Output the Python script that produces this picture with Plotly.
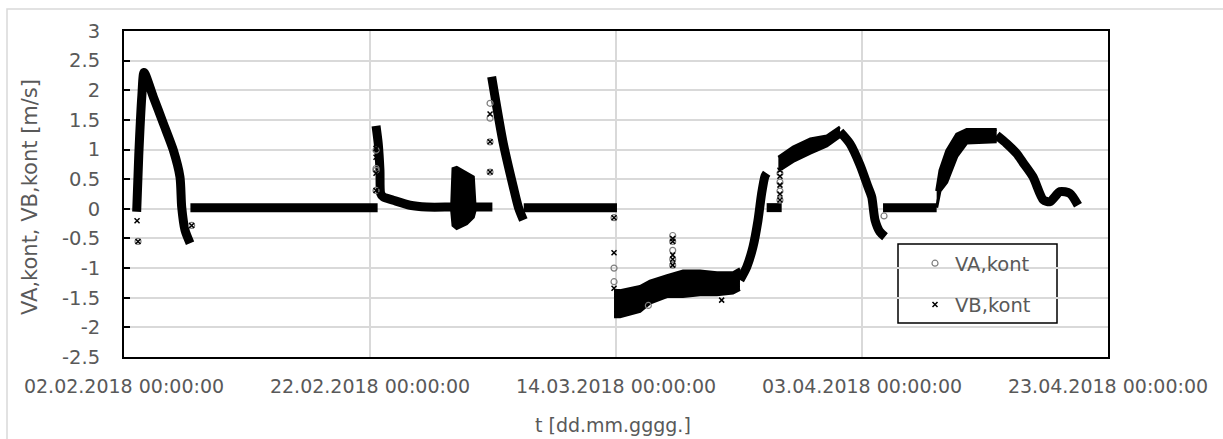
import pandas as pd
import plotly.graph_objects as go

START = pd.Timestamp("2018-02-02")

# Time axis in days since 02.02.2018 00:00, velocities in m/s.
# Dense logger record, traced as the centre line of each flow event.
run1_day = [1.03, 1.20, 1.45, 1.63, 2.38, 3.20, 4.01, 4.55, 4.69, 4.96, 5.37]
run1_v = [-0.05, 0.90, 1.90, 2.30, 1.89, 1.44, 0.99, 0.54, 0.03, -0.36, -0.58]

idle1_day = [5.40, 20.62]
idle1_v = [0.02, 0.02]

run2_day = [20.49, 20.67, 20.81, 20.87, 21.08, 21.89, 23.25, 24.61, 26.64, 28.54, 29.95]
run2_v = [1.40, 1.10, 0.65, 0.26, 0.20, 0.145, 0.06, 0.03, 0.03, 0.03, 0.03]

# short oscillating burst (lower / upper envelope)
burst_day = [26.64, 26.75, 27.05, 27.86, 28.40, 28.54]
burst_lo = [-0.03, -0.28, -0.33, -0.25, -0.14, -0.03]
burst_hi = [0.05, 0.68, 0.70, 0.60, 0.54, 0.05]

run3_day = [29.89, 30.84, 31.65, 32.06, 32.47]
run3_v = [2.23, 1.10, 0.37, 0.03, -0.19]

idle3_day = [32.50, 40.08]
idle3_v = [0.02, 0.02]

# reverse flow period (noisy band envelope)
rev_day = [39.84, 40.33, 41.95, 42.76, 44.15, 45.45, 46.83, 48.21, 49.51, 50.08]
rev_lo = [-1.82, -1.82, -1.73, -1.59, -1.48, -1.48, -1.45, -1.45, -1.42, -1.36]
rev_hi = [-1.38, -1.38, -1.31, -1.22, -1.13, -1.05, -1.05, -1.08, -1.08, -1.01]

rise_day = [50.08, 50.63, 51.14, 51.54, 51.84, 52.11, 52.25]
rise_v = [-1.20, -0.98, -0.64, -0.20, 0.26, 0.55, 0.60]

idle4_day = [52.25, 53.47]
idle4_v = [0.02, 0.02]

run5_day = [53.20, 54.40, 55.80, 57.14, 58.21]
run5_lo = [0.64, 0.80, 0.94, 1.06, 1.22]
run5_hi = [0.87, 1.04, 1.18, 1.23, 1.38]

fall5_day = [58.21, 59.02, 59.84, 60.49, 60.79, 61.06, 61.46, 61.87]
fall5_v = [1.30, 1.10, 0.74, 0.37, 0.20, -0.19, -0.39, -0.47]

idle5_day = [61.71, 66.07]
idle5_v = [0.02, 0.02]

run6_day = [66.07, 66.34, 66.89, 67.70, 68.51, 70.95]
run6_lo = [0.02, 0.30, 0.45, 0.88, 1.11, 1.13]
run6_hi = [0.30, 0.65, 0.98, 1.26, 1.34, 1.34]

fall6_day = [70.95, 71.76, 72.58, 73.09, 73.90, 74.74, 75.28, 76.10, 76.91, 77.56]
fall6_v = [1.24, 1.10, 0.93, 0.78, 0.54, 0.15, 0.12, 0.29, 0.26, 0.06]

# isolated samples off the main trace
va_day = [1.14, 5.50, 20.49, 20.49, 20.49, 20.49, 29.76, 29.76, 29.76, 29.76,
          39.84, 39.84, 39.84, 44.61, 44.61, 44.61, 44.61, 44.61, 42.63,
          53.33, 53.33, 53.33, 53.33, 61.79]
va_v = [-0.55, -0.28, 0.31, 0.65, 0.68, 0.99, 0.62, 1.13, 1.53, 1.78,
        -0.15, -1.00, -1.23, -0.45, -0.55, -0.70, -0.85, -0.95, -1.63,
        0.15, 0.30, 0.45, 0.60, -0.12]
vb_day = [1.06, 1.14, 5.50, 20.49, 20.49, 20.49, 20.49, 29.76, 29.76, 29.76,
          39.84, 39.84, 39.84, 44.61, 44.61, 44.61, 44.61, 44.61, 48.59,
          53.33, 53.33, 53.33, 53.33, 53.33]
vb_v = [-0.20, -0.55, -0.28, 0.31, 0.60, 0.87, 1.02, 0.62, 1.13, 1.60,
        -0.15, -0.74, -1.34, -0.50, -0.55, -0.78, -0.85, -0.95, -1.54,
        0.15, 0.25, 0.40, 0.55, 0.65]

y_ticks = [-2.5, -2, -1.5, -1, -0.5, 0, 0.5, 1, 1.5, 2, 2.5, 3]
y_labels = [f"{v:g}" for v in y_ticks]

FONT = "DejaVu Sans"
GREY_TXT = "#595959"
GRID = "#d9d9d9"
BAND_W = 9

# plot area in pixels
L, R, T, B = 124, 1108, 31, 357
W, H = 1223, 439


def t(days):
    return [START + pd.Timedelta(days=d) for d in days]


def px_x(p):
    return (p - L) / (R - L)


def px_y(p):
    return (B - p) / (B - T)


fig = go.Figure()


def band_line(days, v, smooth=False):
    line = dict(color="black", width=BAND_W)
    if smooth:
        line.update(shape="spline", smoothing=0.7)
    fig.add_trace(go.Scatter(x=t(days), y=v, mode="lines", line=line,
                             showlegend=False, hoverinfo="skip"))


def band_area(days, lo, hi):
    fig.add_trace(go.Scatter(x=t(days), y=lo, mode="lines",
                             line=dict(color="black", width=3),
                             showlegend=False, hoverinfo="skip"))
    fig.add_trace(go.Scatter(x=t(days), y=hi, mode="lines",
                             line=dict(color="black", width=3),
                             fill="tonexty", fillcolor="black",
                             showlegend=False, hoverinfo="skip"))


band_line(run1_day, run1_v, smooth=True)
band_line(idle1_day, idle1_v)
band_line(run2_day, run2_v, smooth=True)
band_area(burst_day, burst_lo, burst_hi)
band_line(run3_day, run3_v, smooth=True)
band_line(idle3_day, idle3_v)
band_area(rev_day, rev_lo, rev_hi)
band_line(rise_day, rise_v, smooth=True)
band_line(idle4_day, idle4_v)
band_area(run5_day, run5_lo, run5_hi)
band_line(fall5_day, fall5_v, smooth=True)
band_line(idle5_day, idle5_v)
band_area(run6_day, run6_lo, run6_hi)
band_line(fall6_day, fall6_v, smooth=True)

fig.add_trace(go.Scatter(
    x=t(va_day), y=va_v, mode="markers", name="VA,kont",
    legendgroup="va",
    marker=dict(symbol="circle-open", size=6, color="#7f7f7f",
                line=dict(width=1.2, color="#7f7f7f")),
))
fig.add_trace(go.Scatter(
    x=t(vb_day), y=vb_v, mode="markers", name="VB,kont",
    legendgroup="vb",
    marker=dict(symbol="x-thin", size=5, color="black",
                line=dict(width=1.5, color="black")),
))

fig.update_layout(
    width=W, height=H,
    margin=dict(l=L, r=W - R, t=T, b=H - B, pad=0),
    paper_bgcolor="white", plot_bgcolor="white",
    font=dict(family=FONT, size=19, color=GREY_TXT),
    showlegend=True,
    legend=dict(
        x=px_x(915), y=px_y(244), xanchor="left", yanchor="top",
        bgcolor="rgba(0,0,0,0)", borderwidth=0,
        font=dict(family=FONT, size=19.5, color=GREY_TXT),
        tracegroupgap=13, traceorder="grouped",
    ),
    xaxis=dict(
        type="date",
        range=[START, START + pd.Timedelta(days=80)],
        tick0=START, dtick=20 * 86400000,
        tickformat="%d.%m.%Y %H:%M:%S",
        showgrid=True, gridcolor=GRID, gridwidth=1.5,
        showline=True, linecolor="black", linewidth=2, mirror=True,
        ticks="", zeroline=False,
        tickfont=dict(family=FONT, size=19, color=GREY_TXT),
        ticklabelstandoff=11,
    ),
    yaxis=dict(
        range=[-2.5, 3], tickvals=y_ticks, ticktext=y_labels,
        showgrid=True, gridcolor=GRID, gridwidth=1.5,
        showline=True, linecolor="black", linewidth=2, mirror=True,
        ticks="inside", ticklen=6, tickwidth=2, tickcolor="black",
        zeroline=False,
        tickfont=dict(family=FONT, size=19.5, color=GREY_TXT),
        ticklabelstandoff=18,
    ),
    shapes=[
        # chart frame
        dict(type="rect", xref="paper", yref="paper",
             x0=px_x(7), x1=px_x(1240), y0=px_y(460), y1=px_y(9),
             line=dict(color=GRID, width=1.5), fillcolor="rgba(0,0,0,0)",
             layer="below"),
        # legend box
        dict(type="rect", xref="paper", yref="paper",
             x0=px_x(898), x1=px_x(1057), y0=px_y(323), y1=px_y(244),
             line=dict(color="black", width=1.5), fillcolor="white",
             layer="between"),
    ],
    annotations=[
        dict(text="t [dd.mm.gggg.]", xref="paper", yref="paper",
             x=px_x(613), y=px_y(425), xanchor="center", yanchor="middle",
             showarrow=False, font=dict(family=FONT, size=19, color=GREY_TXT)),
        dict(text="VA,kont, VB,kont [m/s]", xref="paper", yref="paper",
             x=px_x(30), y=px_y(197), xanchor="center", yanchor="middle",
             textangle=-90, showarrow=False,
             font=dict(family=FONT, size=21, color=GREY_TXT)),
    ],
)

fig.write_html("out.html")
